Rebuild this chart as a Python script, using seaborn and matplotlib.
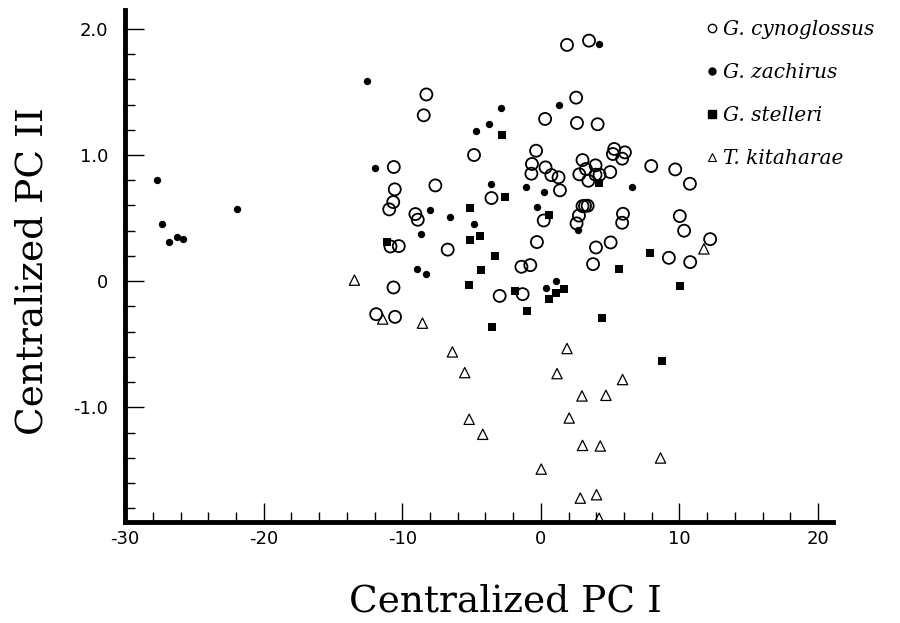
import numpy as np
import pandas as pd
import matplotlib
matplotlib.use("Agg")
import matplotlib.pyplot as plt
from matplotlib.lines import Line2D
from matplotlib.ticker import MultipleLocator, FixedLocator
import seaborn as sns

# values (centralized PC I, PC II)
cyno_x = [-8.26, -8.45, -10.61, -10.54, -10.65, -10.94, -9.05, -8.88, -10.85, -10.25,
          -10.63, 1.89, 3.48, 2.55, 0.31, 2.61, 4.10, -4.82, -0.34, -0.64,
          -0.68, 0.34, 0.76, 1.28, -7.61, -3.56, 1.38, 0.21, 2.75, 2.58,
          -0.28, -6.72, -1.40, -0.76, -2.97, -1.31, -11.88, -10.52, 5.30, 6.07,
          5.20, 5.87, 3.01, 3.26, 3.95, 2.78, 3.95, 4.24, 3.43, 5.01,
          7.97, 9.70, 10.76, 3.01, 3.19, 3.38, 5.93, 5.87, 10.03, 10.34,
          12.22, 3.98, 5.04, 3.77, 9.24, 10.78]
cyno_y = [1.48, 1.315, 0.905, 0.728, 0.627, 0.569, 0.532, 0.487, 0.275, 0.278,
          -0.05, 1.873, 1.907, 1.455, 1.286, 1.254, 1.244, 1.00, 1.034, 0.929,
          0.852, 0.902, 0.841, 0.823, 0.759, 0.659, 0.72, 0.481, 0.52, 0.458,
          0.31, 0.25, 0.114, 0.127, -0.117, -0.103, -0.262, -0.283, 1.048, 1.021,
          1.008, 0.971, 0.96, 0.889, 0.918, 0.847, 0.844, 0.844, 0.796, 0.865,
          0.913, 0.886, 0.772, 0.595, 0.597, 0.598, 0.534, 0.463, 0.516, 0.40,
          0.333, 0.267, 0.307, 0.135, 0.185, 0.151]

zach_x = [-12.53, -11.98, -27.72, -21.93, -27.31, -26.86, -26.27, -25.83, -8.02, -8.66,
          -8.93, -8.28, -2.88, 1.28, -3.74, -4.65, -3.59, -1.07, 0.23, -0.25,
          2.68, -6.57, -4.84, 4.21, 6.58, 1.07, 0.39]
zach_y = [1.585, 0.90, 0.804, 0.571, 0.45, 0.312, 0.349, 0.331, 0.561, 0.375,
          0.10, 0.053, 1.373, 1.394, 1.244, 1.19, 0.772, 0.749, 0.704, 0.59,
          0.405, 0.51, 0.455, 1.883, 0.749, 0.003, -0.058]

stel_x = [-11.13, -2.78, -2.56, 0.57, -5.14, -4.39, -5.09, -3.28, -4.34, -5.20,
          -1.89, 1.07, 1.64, 0.59, -1.02, -3.53, 4.19, 5.64, 7.85, 10.01,
          4.44, 8.76]
stel_y = [0.307, 1.159, 0.664, 0.524, 0.582, 0.36, 0.328, 0.201, 0.085, -0.034,
          -0.077, -0.09, -0.063, -0.145, -0.233, -0.365, 0.775, 0.095, 0.225, -0.037,
          -0.294, -0.635]

kita_x = [-13.45, -11.41, -8.54, -6.38, -5.49, 1.89, 1.17, 5.90, 2.97, 4.70,
          -5.17, -4.19, 2.05, 3.01, 4.29, 8.64, 0.03, 2.85, 4.02, 4.21, 11.77]
kita_y = [0.008, -0.30, -0.333, -0.561, -0.725, -0.534, -0.733, -0.78, -0.91, -0.905,
          -1.095, -1.214, -1.085, -1.302, -1.307, -1.402, -1.49, -1.72, -1.693, -1.88, 0.256]

species = ["G. cynoglossus", "G. zachirus", "G. stelleri", "T. kitaharae"]
xs = [cyno_x, zach_x, stel_x, kita_x]
ys = [cyno_y, zach_y, stel_y, kita_y]

df = pd.concat([pd.DataFrame({"pc1": x, "pc2": y, "species": sp})
                for sp, x, y in zip(species, xs, ys)], ignore_index=True)

sns.set_style("ticks")
plt.rcParams["font.family"] = ["DejaVu Sans"]
plt.rcParams["axes.unicode_minus"] = False
plt.rcParams["text.color"] = "black"
plt.rcParams["xtick.color"] = "black"
plt.rcParams["ytick.color"] = "black"

fig = plt.figure(figsize=(9, 6.23), dpi=100)
ax = fig.add_axes([0.139, 0.162, 0.786, 0.822])

styles = {
    "G. cynoglossus": dict(marker="o", s=75, facecolor="none", edgecolor="black", linewidth=1.3),
    "G. zachirus": dict(marker="o", s=28, color="black", edgecolor="black", linewidth=0),
    "G. stelleri": dict(marker="s", s=38, color="black", edgecolor="black", linewidth=0),
    "T. kitaharae": dict(marker="^", s=55, facecolor="none", edgecolor="black", linewidth=0.9),
}
for sp in species:
    sns.scatterplot(data=df[df.species == sp], x="pc1", y="pc2", ax=ax,
                    legend=False, zorder=3, clip_on=False, **styles[sp])

ax.set_xlim(-30, 21.05)
ax.set_ylim(-1.91, 2.15)
ax.set_xlabel("")
ax.set_ylabel("")

# axes: thick left/bottom lines, inward ticks
sns.despine(ax=ax)
for side in ["left", "bottom"]:
    ax.spines[side].set_linewidth(3.5)
    ax.spines[side].set_color("black")

ax.xaxis.set_major_locator(FixedLocator([-30, -20, -10, 0, 10, 20]))
ax.xaxis.set_minor_locator(MultipleLocator(2))
ax.yaxis.set_major_locator(FixedLocator([-1, 0, 1, 2]))
ax.yaxis.set_minor_locator(MultipleLocator(0.2))
ax.set_yticklabels(["-1.0", "0", "1.0", "2.0"])
ax.tick_params(which="major", direction="in", length=14, width=1.0, labelsize=13,
               color="black", labelcolor="black")
ax.tick_params(which="minor", direction="in", length=7, width=1.0, color="black")
ax.tick_params(axis="x", which="major", pad=6)
ax.tick_params(axis="y", which="major", pad=12)

# text-style legend at top right
handles = [
    Line2D([], [], ls="", marker="o", ms=6, mfc="none", mec="black", mew=1.0),
    Line2D([], [], ls="", marker="o", ms=5, mfc="black", mec="black"),
    Line2D([], [], ls="", marker="s", ms=5.5, mfc="black", mec="black"),
    Line2D([], [], ls="", marker="^", ms=6, mfc="none", mec="black", mew=0.8),
]
ax.legend(handles, species, loc="upper left", bbox_to_anchor=(706 / 900, 1 - 20 / 623),
          bbox_transform=fig.transFigure, frameon=False, handlelength=0.6,
          handletextpad=0.25, labelspacing=1.2, borderpad=0, borderaxespad=0,
          prop={"family": "DejaVu Serif", "style": "italic", "size": 14.5})

fig.text(505 / 900, 1 - 602 / 623, "Centralized PC I", ha="center", va="center",
         fontsize=27, family="DejaVu Serif")
fig.text(0.036, 0.565, "Centralized PC II", ha="center", va="center", rotation=90,
         fontsize=27, family="DejaVu Serif")

fig.savefig("out.png", dpi=100)
